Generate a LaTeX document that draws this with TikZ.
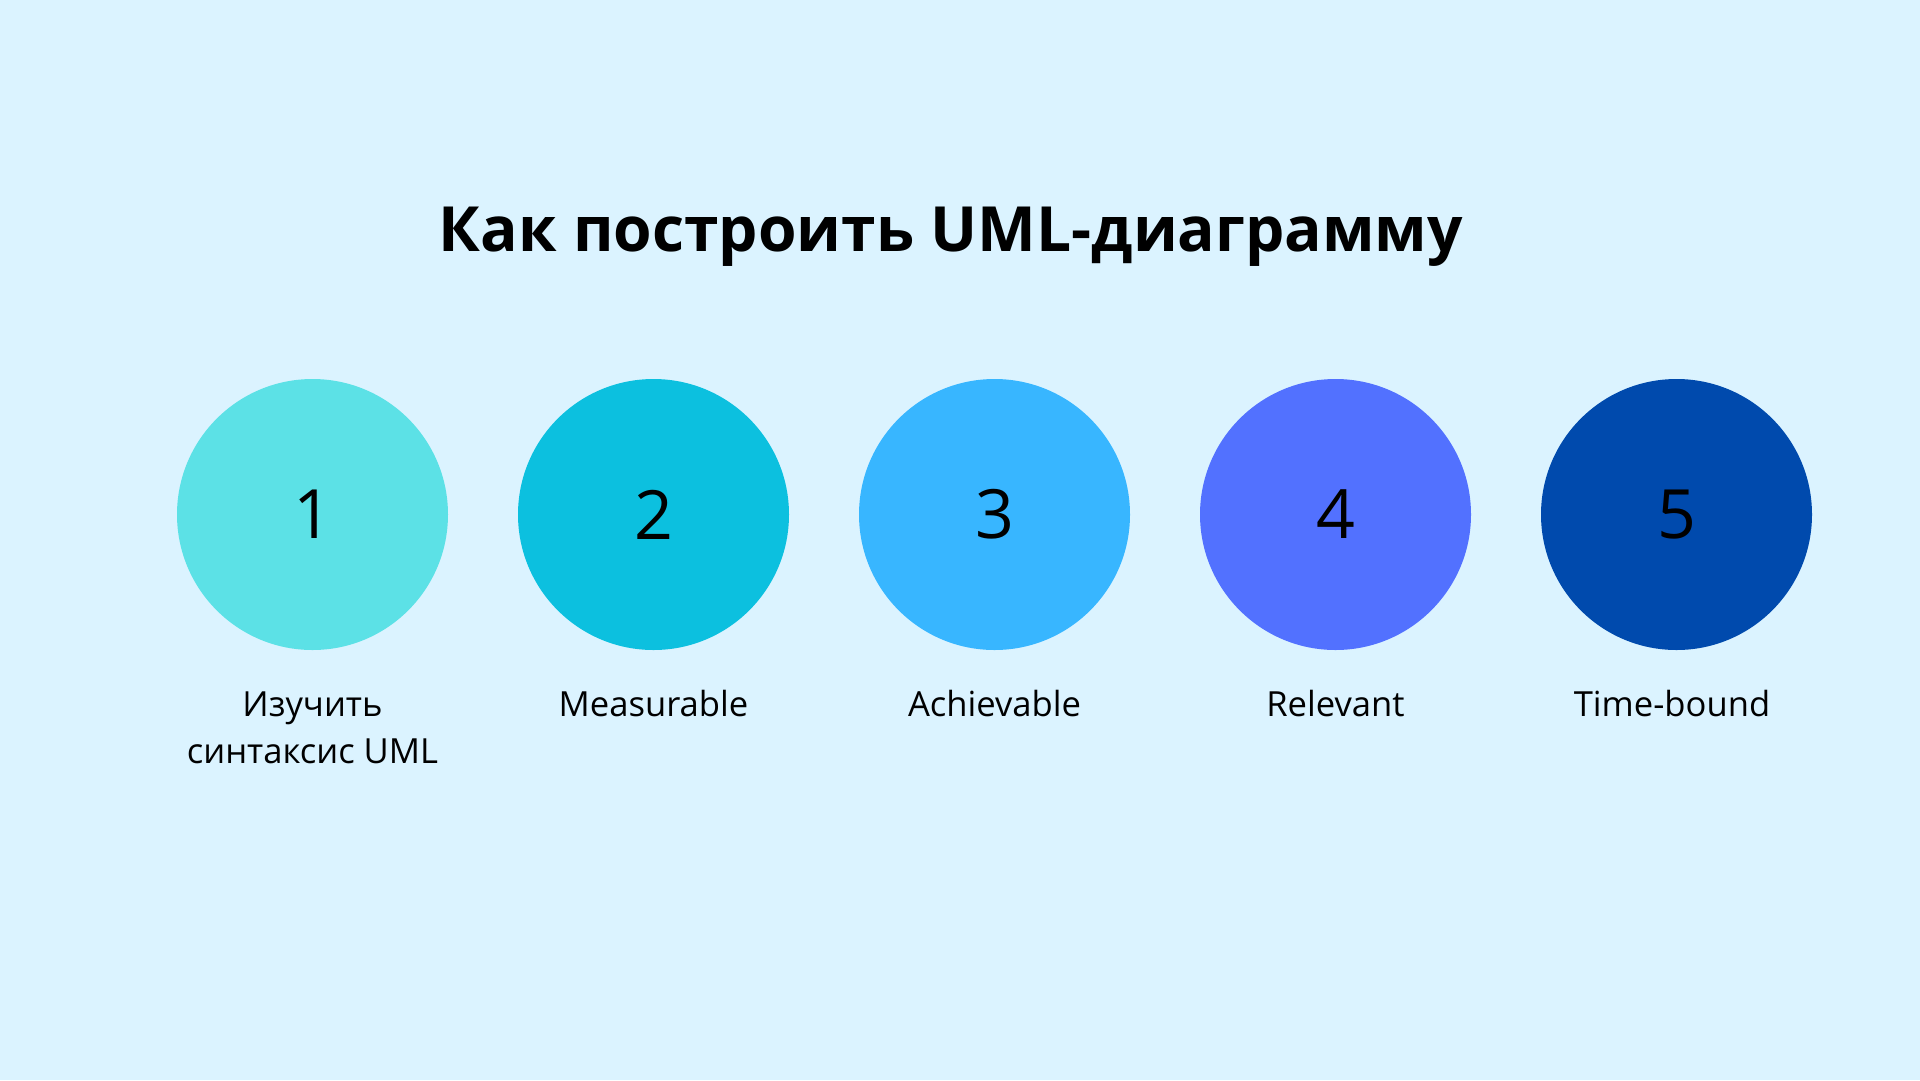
\documentclass[tikz,border=0pt]{standalone}
\usepackage{fontspec}
\setmainfont{Open Sans}
\definecolor{bg}{HTML}{DBF3FF}
\definecolor{cA}{HTML}{5CE1E6}
\definecolor{cB}{HTML}{0CC0DF}
\definecolor{cC}{HTML}{38B6FF}
\definecolor{cD}{HTML}{5271FF}
\definecolor{cE}{HTML}{004AAD}
\tikzset{
  disc/.style={circle, minimum size=271pt, inner sep=0pt, draw=none},
  num/.style={anchor=center, font=\fontsize{68}{80}\selectfont, text=black},
  lbl/.style={anchor=base, align=center, font=\fontsize{34.6}{47}\selectfont, text=black},
  ttl/.style={anchor=base, font=\fontsize{62.3}{74}\selectfont\bfseries, text=black}
}
\begin{document}
\begin{tikzpicture}[x=1pt,y=-1pt]
\fill[bg] (0,0) rectangle (1920,1080);
\useasboundingbox (0,0) rectangle (1920,1080);
\node[ttl] (title) at (951,251) {Как построить UML-диаграмму};
\node[disc, fill=cA] (c1) at (312.5,514.5) {};
\node[disc, fill=cB] (c2) at (653.5,514.5) {};
\node[disc, fill=cC] (c3) at (994.5,514.5) {};
\node[disc, fill=cD] (c4) at (1335.5,514.5) {};
\node[disc, fill=cE] (c5) at (1676.5,514.5) {};
\node[num] (n1) at (c1) {1};
\node[num] (n2) at (c2) {2};
\node[num] (n3) at (c3) {3};
\node[num] (n4) at (c4) {4};
\node[num] (n5) at (c5) {5};
\node[lbl] (l1) at (312.5,763) {Изучить\\синтаксис UML};
\node[lbl] (l2) at (653.5,716) {Measurable};
\node[lbl] (l3) at (994.5,716) {Achievable};
\node[lbl] (l4) at (1335.5,716) {Relevant};
\node[lbl] (l5) at (1672,716) {Time-bound};
\end{tikzpicture}
\end{document}
